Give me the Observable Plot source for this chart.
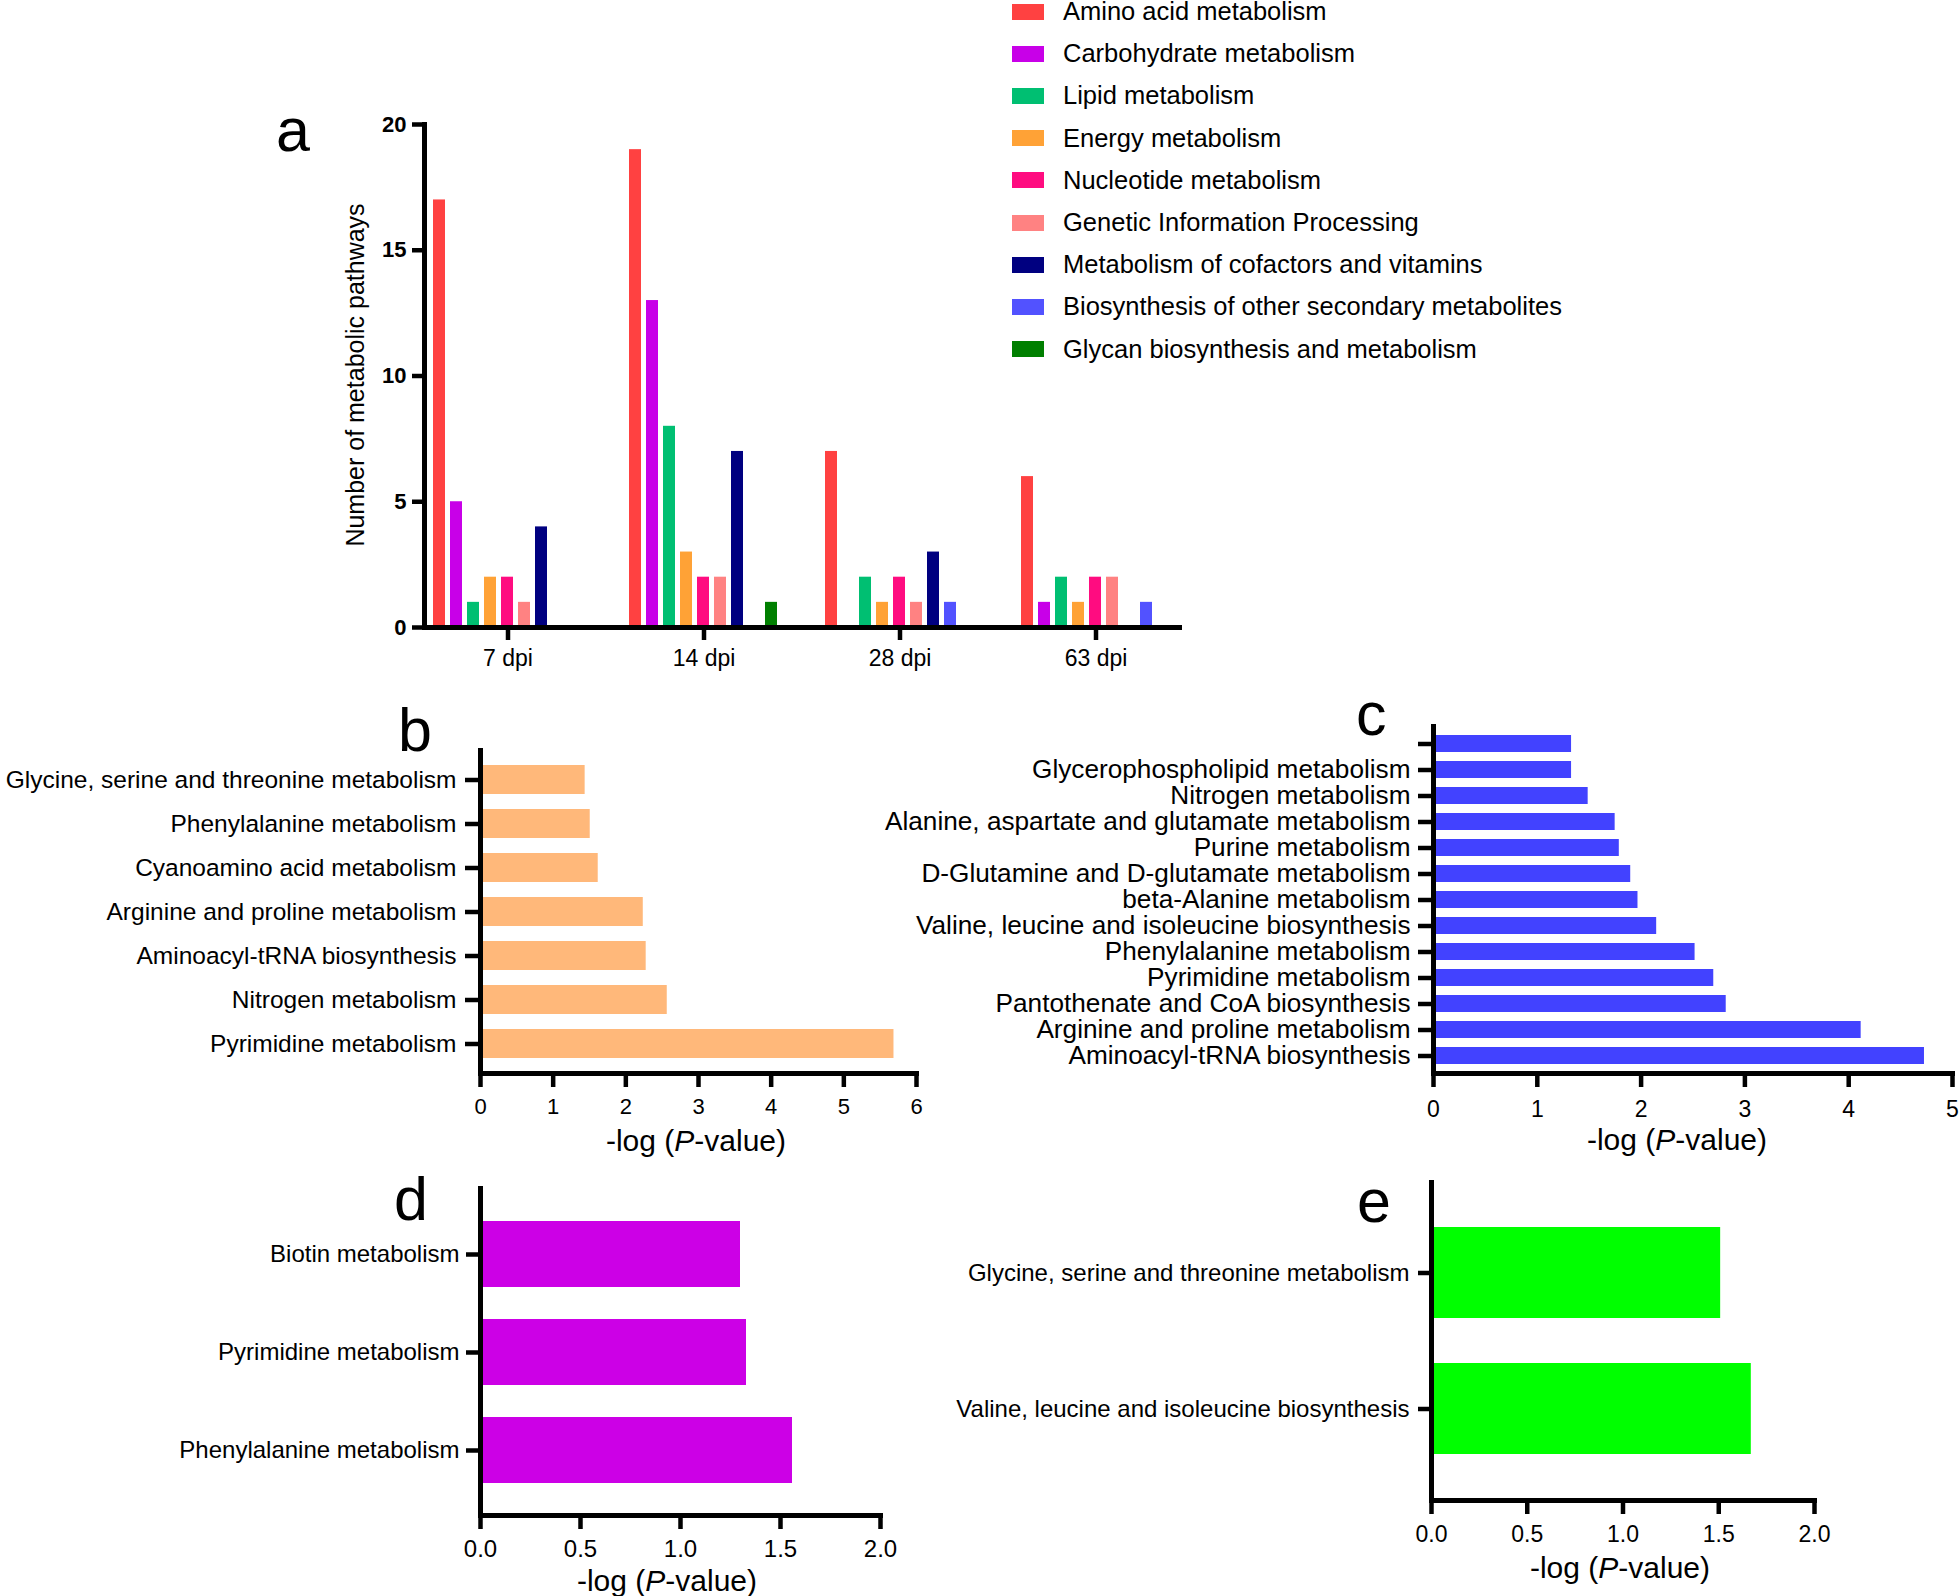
<!DOCTYPE html>
<html>
<head>
<meta charset="utf-8">
<script src="https://cdn.jsdelivr.net/npm/d3@7"></script>
<script src="https://cdn.jsdelivr.net/npm/@observablehq/plot@0.6"></script>
<style>
  html, body { margin: 0; padding: 0; background: #fff; }
  #fig { position: relative; width: 1960px; height: 1596px; background: #fff; overflow: hidden;
         font-family: "Liberation Sans", Arial, Helvetica, sans-serif; color: #000; }
  .letter { position: absolute; font-size: 61px; line-height: 61px; white-space: nowrap; }
  .xlab { position: absolute; font-size: 30px; line-height: 30px; white-space: nowrap; transform: translateX(-50%); }
  .ylab { position: absolute; font-size: 25px; line-height: 25px; white-space: nowrap; transform: translate(-50%, -50%) rotate(-90deg); }
  .legrow { position: absolute; height: 23px; display: flex; align-items: center; font-size: 25.5px; line-height: 23px; white-space: nowrap; }
  .legsw { width: 32px; height: 16px; margin-right: 19px; flex: none; }
</style>
</head>
<body>
<div id="fig"></div>
<script>
// ---------------- Panel a data ----------------
const dpiLabels = ["7 dpi", "14 dpi", "28 dpi", "63 dpi"];
const pathwayClasses = [
  "Amino acid metabolism",
  "Carbohydrate metabolism",
  "Lipid metabolism",
  "Energy metabolism",
  "Nucleotide metabolism",
  "Genetic Information Processing",
  "Metabolism of cofactors and vitamins",
  "Biosynthesis of other secondary metabolites",
  "Glycan biosynthesis and metabolism"
];
const classColors = ["#FF4141", "#C800E8", "#00BF72", "#FFA236", "#FF0C80", "#FF8282", "#000080", "#5252FF", "#007F00"];
const counts7dpi  = [17, 5, 1, 2, 2, 1, 4, 0, 0];
const counts14dpi = [19, 13, 8, 3, 2, 2, 7, 0, 1];
const counts28dpi = [7, 0, 2, 1, 2, 1, 3, 1, 0];
const counts63dpi = [6, 1, 2, 1, 2, 2, 0, 1, 0];
const countTicks = [0, 5, 10, 15, 20];
const countLabel = "Number of metabolic pathways";

// ---------------- Panel b data ----------------
const bNames = [
  "Glycine, serine and threonine metabolism",
  "Phenylalanine metabolism",
  "Cyanoamino acid metabolism",
  "Arginine and proline metabolism",
  "Aminoacyl-tRNA biosynthesis",
  "Nitrogen metabolism",
  "Pyrimidine metabolism"
];
const bValues = [1.44, 1.51, 1.62, 2.24, 2.28, 2.57, 5.69];
const bTicks = [0, 1, 2, 3, 4, 5, 6];
const bColor = "#FFB87A";

// ---------------- Panel c data ----------------
const cNames = [
  " ",
  "Glycerophospholipid metabolism",
  "Nitrogen metabolism",
  "Alanine, aspartate and glutamate metabolism",
  "Purine metabolism",
  "D-Glutamine and D-glutamate metabolism",
  "beta-Alanine metabolism",
  "Valine, leucine and isoleucine biosynthesis",
  "Phenylalanine metabolism",
  "Pyrimidine metabolism",
  "Pantothenate and CoA biosynthesis",
  "Arginine and proline metabolism",
  "Aminoacyl-tRNA biosynthesis"
];
const cValues = [1.33, 1.33, 1.49, 1.75, 1.79, 1.90, 1.97, 2.15, 2.52, 2.70, 2.82, 4.12, 4.73];
const cTicks = [0, 1, 2, 3, 4, 5];
const cColor = "#4242FF";

// ---------------- Panel d data ----------------
const dNames = ["Biotin metabolism", "Pyrimidine metabolism", "Phenylalanine metabolism"];
const dValues = [1.30, 1.33, 1.56];
const dTicks = [0, 0.5, 1, 1.5, 2];
const dColor = "#CC00E6";

// ---------------- Panel e data ----------------
const eNames = ["Glycine, serine and threonine metabolism", "Valine, leucine and isoleucine biosynthesis"];
const eValues = [1.51, 1.67];
const eTicks = [0, 0.5, 1, 1.5, 2];
const eColor = "#00FF00";

const FONT = '"Liberation Sans", Arial, Helvetica, sans-serif';
const fig = document.getElementById("fig");

function place(svg, left, top) {
  svg.style.position = "absolute";
  svg.style.left = left + "px";
  svg.style.top = top + "px";
  svg.style.background = "transparent";
  svg.style.overflow = "visible";
  svg.style.maxWidth = "none";
  fig.appendChild(svg);
}
const baseStyle = {fontFamily: FONT, color: "#000", background: "transparent", overflow: "visible"};

// ---------------- Panel a ----------------
const aRows = [];
[counts7dpi, counts14dpi, counts28dpi, counts63dpi].forEach((arr, i) =>
  arr.forEach((v, j) => { if (v > 0) aRows.push({dpi: dpiLabels[i], cls: pathwayClasses[j], value: v}); })
);
const plotA = Plot.plot({
  width: 1200, height: 700,
  marginLeft: 422, marginRight: 20, marginTop: 124, marginBottom: 73,
  style: baseStyle,
  fx: {domain: dpiLabels, paddingInner: 0.15, paddingOuter: 0, label: null},
  x: {domain: pathwayClasses, padding: 0.28, axis: null},
  y: {domain: [0, 20], label: null},
  color: {domain: pathwayClasses, range: classColors},
  marks: [
    Plot.barY(aRows, {fx: "dpi", x: "cls", y: "value", fill: "cls"}),
    Plot.axisY({ticks: countTicks, tickSize: 12, tickPadding: 6, strokeWidth: 4.5, fontSize: 22, fontWeight: "bold", label: null}),
    Plot.axisFx({anchor: "bottom", tickSize: 13, tickPadding: 9, strokeWidth: 4.5, fontSize: 23, label: null}),
    Plot.frame({anchor: "left", facet: "super", strokeWidth: 5, strokeLinecap: "square"}),
    Plot.frame({anchor: "bottom", facet: "super", strokeWidth: 5, strokeLinecap: "square"})
  ]
});
place(plotA, 0, 0);

// ---------------- horizontal bar panels ----------------
function hbar(names, values, color, ticks, fmt, o) {
  const rows = names.map((n, i) => ({name: n, value: values[i]}));
  return Plot.plot({
    width: o.width, height: o.height,
    marginLeft: o.ml, marginRight: o.mr, marginTop: o.mt, marginBottom: o.mb,
    style: baseStyle,
    x: {domain: [ticks[0], ticks[ticks.length - 1]], label: null},
    y: {domain: names, padding: 0.33, label: null},
    marks: [
      Plot.barX(rows, {x: "value", y: "name", fill: color}),
      Plot.axisY({tickSize: o.yts, tickPadding: o.ytp, strokeWidth: 4.5, fontSize: o.yfs, label: null}),
      Plot.axisX({ticks: ticks, tickFormat: fmt, tickSize: 14, tickPadding: o.xtp, strokeWidth: 4.5, fontSize: o.xfs, label: null}),
      Plot.frame({anchor: "left", strokeWidth: 5, strokeLinecap: "square"}),
      Plot.frame({anchor: "bottom", strokeWidth: 5, strokeLinecap: "square"})
    ]
  });
}
const intFmt = d3.format("d");
const oneFmt = d3.format(".1f");

place(hbar(bNames, bValues, bColor, bTicks, intFmt,
  {width: 940, height: 420, ml: 480, mr: 24, mt: 50, mb: 47, yts: 15, ytp: 9, yfs: 24.5, xtp: 11, xfs: 22}), 0, 700);
place(hbar(cNames, cValues, cColor, cTicks, intFmt,
  {width: 1100, height: 450, ml: 573, mr: 8, mt: 46, mb: 57, yts: 15, ytp: 8, yfs: 26.2, xtp: 13, xfs: 23}), 860, 680);
place(hbar(dNames, dValues, dColor, dTicks, oneFmt,
  {width: 940, height: 446, ml: 480, mr: 60, mt: 38, mb: 81, yts: 14, ytp: 7, yfs: 24, xtp: 10, xfs: 24}), 0, 1150);
place(hbar(eNames, eValues, eColor, eTicks, oneFmt,
  {width: 1100, height: 446, ml: 571, mr: 146, mt: 32, mb: 96, yts: 13, ytp: 9, yfs: 24, xtp: 11, xfs: 23}), 860, 1150);

// ---------------- texts ----------------
const letters = [["a", 276, 100], ["b", 398, 700], ["c", 1356, 684], ["d", 394, 1169], ["e", 1357, 1171]];
letters.forEach(([t, x, y]) => {
  const d = document.createElement("div");
  d.className = "letter"; d.textContent = t;
  d.style.left = x + "px"; d.style.top = y + "px";
  fig.appendChild(d);
});
const xLabelPos = [[696, 1126], [1677, 1125], [667, 1566], [1620, 1553]];
xLabelPos.forEach(([x, y]) => {
  const d = document.createElement("div");
  d.className = "xlab";
  d.innerHTML = "-log (<i>P</i>-value)";
  d.style.left = x + "px"; d.style.top = y + "px";
  fig.appendChild(d);
});
const yl = document.createElement("div");
yl.className = "ylab"; yl.textContent = countLabel;
yl.style.left = "355px"; yl.style.top = "375px";
fig.appendChild(yl);

// legend
pathwayClasses.forEach((c, i) => {
  const row = document.createElement("div");
  row.className = "legrow";
  row.style.left = "1012px";
  row.style.top = (11.5 + 42.2 * i - 11.5) + "px";
  const sw = document.createElement("div");
  sw.className = "legsw"; sw.style.background = classColors[i];
  const tx = document.createElement("span");
  tx.textContent = c;
  row.appendChild(sw); row.appendChild(tx);
  fig.appendChild(row);
});
</script>
</body>
</html>
